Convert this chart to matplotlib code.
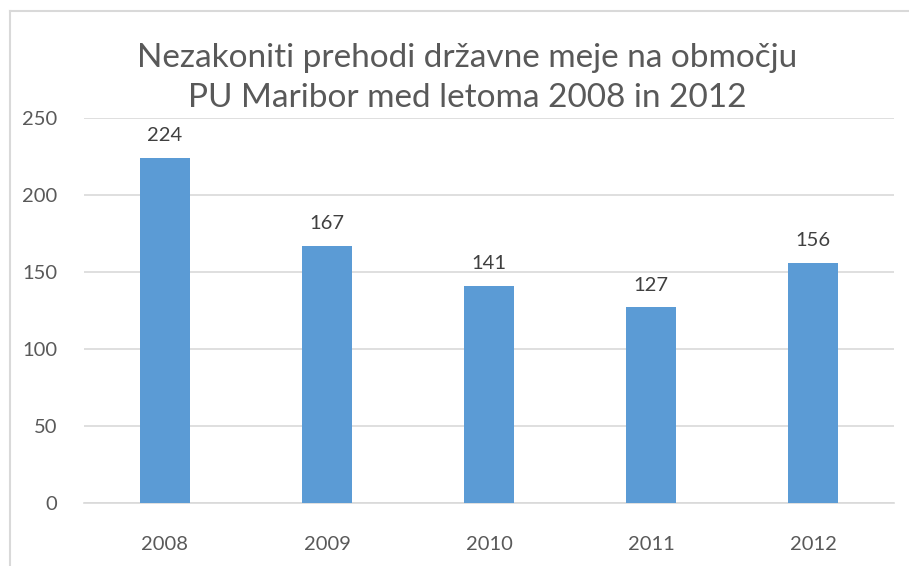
import matplotlib
matplotlib.use("Agg")
import matplotlib.pyplot as plt
from matplotlib.lines import Line2D

years = ["2008", "2009", "2010", "2011", "2012"]
values = [224, 167, 141, 127, 156]
yticks = [0, 50, 100, 150, 200, 250]
title = "Nezakoniti prehodi državne meje na območju\nPU Maribor med letoma 2008 in 2012"

plt.rcParams['font.family'] = ['Lato', 'DejaVu Sans']

W, H = 909, 566
fig = plt.figure(figsize=(W / 100, H / 100), dpi=100)
fig.patch.set_facecolor("white")

# chart border (left and top visible)
fig.add_artist(Line2D([10 / W, 10 / W], [0, 1 - 11 / H], transform=fig.transFigure, color="#d9d9d9", lw=1.5))
fig.add_artist(Line2D([10 / W, 1], [1 - 11 / H, 1 - 11 / H], transform=fig.transFigure, color="#d9d9d9", lw=1.5))

left, right, top, bottom = 84, 894, 118, 503
ax = fig.add_axes([left / W, 1 - bottom / H, (right - left) / W, (bottom - top) / H])
x = range(len(years))
bars = ax.bar(x, values, width=0.31, color="#5b9bd5", zorder=3)
ax.set_xlim(-0.5, len(years) - 0.5)
ax.set_ylim(0, 250)
ax.set_yticks(yticks)
ax.set_xticks(list(x))
ax.set_xticklabels(years)
ax.grid(axis="y", color="#d9d9d9", lw=1.2, zorder=0)
for s in ["top", "right", "left"]:
    ax.spines[s].set_visible(False)
ax.spines["bottom"].set_color("#d9d9d9")
ax.spines["bottom"].set_linewidth(1.2)
ax.tick_params(axis="both", length=0, labelsize=14.5, colors="#595959")
ax.tick_params(axis="y", pad=19)
ax.tick_params(axis="x", pad=24)
for xi, v in zip(x, values):
    ax.annotate(str(v), (xi, v), xytext=(0, 10), textcoords="offset points",
                ha="center", va="bottom", fontsize=14.5, color="#404040")

fig.text(467 / W, 1 - 78 / H, title, ha="center", va="center", fontsize=24,
         color="#595959", linespacing=1.4)

fig.savefig("out.png", dpi=100, facecolor="white")
